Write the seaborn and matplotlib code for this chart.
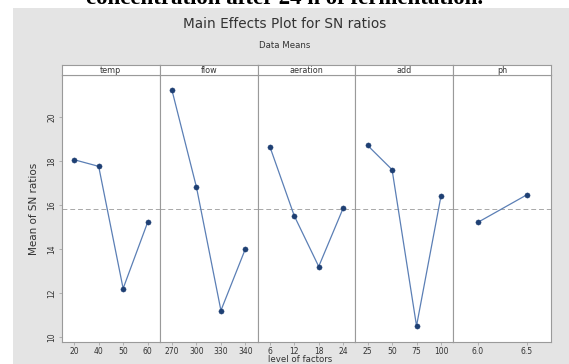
import matplotlib
matplotlib.use("Agg")
import matplotlib.pyplot as plt
import seaborn as sns
import pandas as pd
from matplotlib.patches import Rectangle

# ---- data ----
factors = ["temp", "flow", "aeration", "add", "ph"]
temp_levels = ["20", "40", "50", "60"]
temp_means = [18.05, 17.75, 12.2, 15.2]
flow_levels = ["270", "300", "330", "340"]
flow_means = [21.2, 16.8, 11.2, 14.0]
aeration_levels = ["6", "12", "18", "24"]
aeration_means = [18.65, 15.5, 13.2, 15.85]
add_levels = ["25", "50", "75", "100"]
add_means = [18.7, 17.6, 10.5, 16.4]
ph_levels = ["6.0", "6.5"]
ph_means = [15.2, 16.45]
grand_mean = 15.8

levels = [temp_levels, flow_levels, aeration_levels, add_levels, ph_levels]
means = [temp_means, flow_means, aeration_means, add_means, ph_means]

W, H = 569, 364
fig = plt.figure(figsize=(W / 100, H / 100), dpi=100)
fig.patch.set_facecolor("white")
bg = Rectangle((13 / W, 0), 1 - 13 / W, 1 - 8 / H,
               transform=fig.transFigure, facecolor="#e4e4e4",
               edgecolor="none", zorder=-5)
fig.add_artist(bg)

left, right = 62 / W, 551 / W
bottom, top = 1 - 342 / H, 1 - 75 / H
pw = (right - left) / 5
strip_h = 10 / H

line_col = "#5b7fb5"
pt_col = "#1e3f73"
border = "#9a9a9a"

axes = []
for i, (f, lv, mv) in enumerate(zip(factors, levels, means)):
    ax = fig.add_axes([left + i * pw, bottom, pw, top - bottom],
                      sharey=axes[0] if axes else None)
    axes.append(ax)
    ax.set_facecolor("white")
    df = pd.DataFrame({"level": lv, "mean": mv, "pos": range(len(lv))})
    ax.axhline(grand_mean, color="#a8a8a8", ls=(0, (5, 3)), lw=0.7, zorder=1)
    sns.lineplot(data=df, x="pos", y="mean", ax=ax, color=line_col, lw=0.9,
                 zorder=2)
    sns.scatterplot(data=df, x="pos", y="mean", ax=ax, color=pt_col, s=14,
                    edgecolor=pt_col, linewidth=0.3, zorder=3)
    ax.set_xticks(range(len(lv)))
    ax.set_xticklabels(lv)
    ax.set_xlim(-0.5, len(lv) - 0.5)
    ax.set_xlabel("")
    ax.set_ylabel("")
    for s in ax.spines.values():
        s.set_color(border)
        s.set_linewidth(0.8)
    ax.tick_params(axis="x", labelsize=5.5, length=2, width=0.5, color=border,
                   pad=1.5, labelcolor="#333333")
    if i == 0:
        ax.tick_params(axis="y", labelsize=5.5, length=2, width=0.5,
                       color=border, pad=2, labelcolor="#333333")
    else:
        ax.tick_params(axis="y", left=False, labelleft=False)
    # strip
    sax = fig.add_axes([left + i * pw, top, pw, strip_h])
    sax.set_xticks([])
    sax.set_yticks([])
    sax.set_facecolor("white")
    for s in sax.spines.values():
        s.set_color(border)
        s.set_linewidth(0.8)
    sax.text(0.5, 0.45, f, ha="center", va="center", fontsize=5.8,
             color="#333333", transform=sax.transAxes)

axes[0].set_ylim(9.77, 21.9)
axes[0].set_yticks([10, 12, 14, 16, 18, 20])
for lab in axes[0].get_yticklabels():
    lab.set_rotation(90)
    lab.set_va("center")

fig.text(0.5, 1 - 4 / H, "concentration after 24 h of fermentation.",
         ha="center", va="baseline", fontsize=16.5, fontweight="bold",
         family="Liberation Serif", color="black")
fig.text(0.5, 1 - 24 / H, "Main Effects Plot for SN ratios", ha="center",
         va="center", fontsize=9.8, color="#333333")
fig.text(0.5, 1 - 45 / H, "Data Means", ha="center", va="center",
         fontsize=6.2, color="#333333")
fig.text(34 / W, (bottom + top) / 2, "Mean of SN ratios", ha="center",
         va="center", rotation=90, fontsize=7.5, color="#333333")
fig.text(300 / W, 1 - 355.5 / H, "level of factors", ha="center", va="top",
         fontsize=6.2, color="#333333")

fig.savefig("out.png", dpi=100)
